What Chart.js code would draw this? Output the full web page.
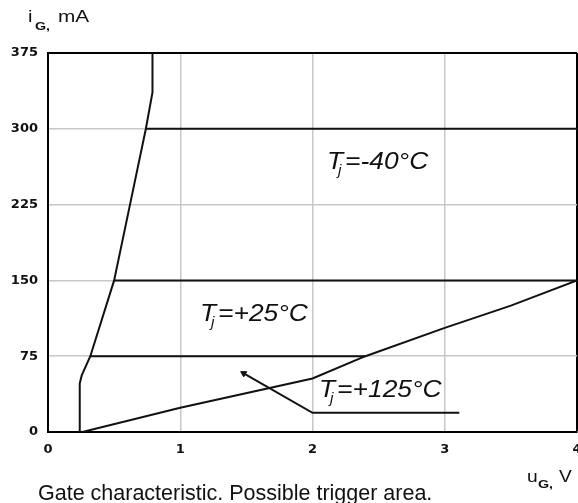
<!DOCTYPE html>
<html>
<head>
<meta charset="utf-8">
<script src="https://cdn.jsdelivr.net/npm/chart.js@4.4.0/dist/chart.umd.min.js"></script>
<style>
  html, body { margin: 0; padding: 0; background: #fff; }
  #wrap { width: 578px; height: 503px; }
</style>
</head>
<body>
<div id="wrap"><canvas id="gate" width="578" height="503"></canvas></div>
<script>
// tick values (uG in V, iG in mA)
const xTicks = [0, 1, 2, 3, 4];
const yTicks = [0, 75, 150, 225, 300, 375];

// left boundary of the trigger area
const boundU = [0.24, 0.24, 0.255, 0.32, 0.50, 0.62, 0.74, 0.79, 0.79];
const boundI = [0, 48, 56, 75, 150, 225, 300, 336, 375];

// lower boundary (rising line)
const riseU = [0.26, 1, 2, 2.4, 3, 3.5, 4];
const riseI = [0, 24, 53, 75, 103, 125, 150];

// minimum trigger current per temperature
const minus40U = [0.74, 4];
const minus40I = [300, 300];
const plus25U = [0.50, 4];
const plus25I = [150, 150];
const plus125U = [0.32, 2.4];
const plus125I = [75, 75];

// pointer line for the +125°C label
const pointerU = [1.48, 2.0, 3.11];
const pointerI = [58, 19, 19];

// labels inside the plot
const noteText = ['=-40°C', '=+25°C', '=+125°C'];
const noteU = [2.11, 1.15, 2.05];
const noteI = [260, 110, 35];

const toPts = (xs, ys) => xs.map((x, i) => ({x: x, y: ys[i]}));

const lineSet = (xs, ys) => ({
    data: toPts(xs, ys),
    showLine: true,
    borderColor: '#111',
    borderWidth: 2,
    pointRadius: 0,
    tension: 0
});

const pointerSet = lineSet(pointerU, pointerI);
pointerSet.pointRadius = [3.5, 0, 0];
pointerSet.pointStyle = 'triangle';
pointerSet.rotation = -60;
pointerSet.backgroundColor = '#111';
pointerSet.pointBorderWidth = 1;

// texto estirado en horizontal, como en el original
const wideText = (ctx, txt, x, y, font, sx) => {
    ctx.save();
    ctx.font = font;
    ctx.translate(x, y);
    ctx.scale(sx, 1);
    ctx.fillText(txt, 0, 0);
    ctx.restore();
};

// texte: titres des axes, annotations, légende du bas
const textPlugin = {
    id: 'gateText',
    afterDraw(chart) {
        const ctx = chart.ctx;
        const xs = chart.scales.x;
        const ys = chart.scales.y;
        ctx.save();
        ctx.fillStyle = '#111';
        ctx.textBaseline = 'alphabetic';
        ctx.textAlign = 'left';

        // annotations T_j
        noteText.forEach((t, i) => {
            const px = xs.getPixelForValue(noteU[i]);
            const py = ys.getPixelForValue(noteI[i]);
            wideText(ctx, 'T', px, py, 'italic 24px "Liberation Sans"', 1.1);
            wideText(ctx, 'j', px + 11, py + 6, 'italic 14px "Liberation Sans"', 1.1);
            wideText(ctx, t, px + 18, py, 'italic 24px "Liberation Sans"', 1.1);
        });

        // titre axe y
        wideText(ctx, 'i', 28, 22, '16px "Liberation Sans"', 1.25);
        wideText(ctx, 'G,', 35, 30, 'bold 11px "Liberation Sans"', 1.3);
        wideText(ctx, 'mA', 58, 22, '16px "Liberation Sans"', 1.3);

        // titre axe x
        wideText(ctx, 'u', 527, 482, '16px "Liberation Sans"', 1.2);
        wideText(ctx, 'G,', 538, 488, 'bold 11px "Liberation Sans"', 1.3);
        wideText(ctx, 'V', 559, 482, '16px "Liberation Sans"', 1.2);

        // légende
        ctx.font = '21.5px "Liberation Sans"';
        ctx.fillText('Gate characteristic. Possible trigger area.', 38, 500);
        ctx.restore();
    }
};

const tickFont = {family: 'DejaVu Sans', size: 13, weight: 'bold'};

new Chart(document.getElementById('gate'), {
    type: 'scatter',
    data: {
        datasets: [
            lineSet(boundU, boundI),
            lineSet(riseU, riseI),
            lineSet(minus40U, minus40I),
            lineSet(plus25U, plus25I),
            lineSet(plus125U, plus125I),
            pointerSet
        ]
    },
    options: {
        responsive: false,
        animation: false,
        layout: {autoPadding: false, padding: {top: 53, right: 1, left: 0, bottom: 0}},
        plugins: {legend: {display: false}, tooltip: {enabled: false}},
        scales: {
            x: {
                type: 'linear',
                min: 0,
                max: 4,
                afterBuildTicks: (s) => { s.ticks = xTicks.map(v => ({value: v})); },
                afterFit: (s) => { s.height = 71; s.paddingLeft = 0; s.paddingRight = 0; },
                ticks: {color: '#111', font: tickFont, padding: 10, maxRotation: 0},
                grid: {
                    drawTicks: false,
                    color: (c) => (c.tick && c.tick.value === 4 ? '#000' : '#c8c8c8'),
                    lineWidth: (c) => (c.tick && c.tick.value === 4 ? 2 : 1.5)
                },
                border: {display: true, color: '#000', width: 2}
            },
            y: {
                type: 'linear',
                min: 0,
                max: 375,
                afterBuildTicks: (s) => { s.ticks = yTicks.map(v => ({value: v})); },
                afterFit: (s) => { s.width = 48; s.paddingTop = 0; s.paddingBottom = 0; },
                ticks: {color: '#111', font: tickFont, padding: 10},
                grid: {
                    drawTicks: false,
                    color: (c) => (c.tick && c.tick.value === 375 ? '#000' : '#c8c8c8'),
                    lineWidth: (c) => (c.tick && c.tick.value === 375 ? 2 : 1.5)
                },
                border: {display: true, color: '#000', width: 2}
            }
        }
    },
    plugins: [textPlugin]
});
</script>
</body>
</html>
